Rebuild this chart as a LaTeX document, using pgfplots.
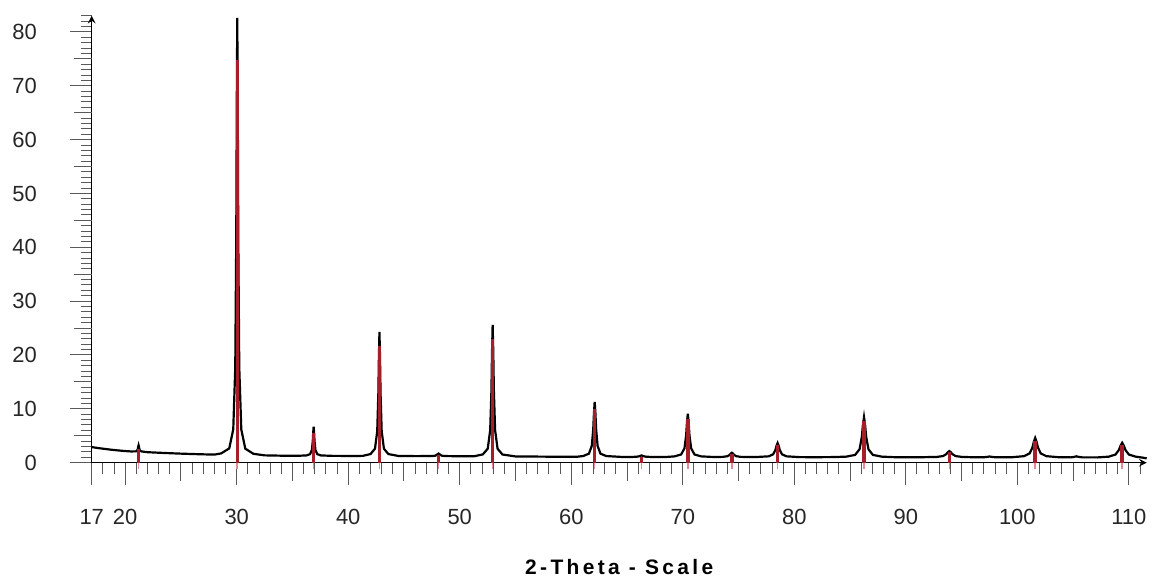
\documentclass[border=0pt]{standalone}
\usepackage{fontspec}
\setmainfont{Liberation Sans}
\newfontfamily\xlabfont[LetterSpace=16]{Liberation Sans}
\usepackage{pgfplots}
\pgfplotsset{compat=1.18}
\definecolor{stickred}{RGB}{165,30,42}
\definecolor{stickpink}{RGB}{225,140,150}

\begin{document}
\begin{tikzpicture}
\begin{axis}[
    scale only axis,
    width=529pt, height=224.1pt,
    xmin=17, xmax=111.6,
    ymin=0, ymax=83,
    axis lines=left,
    axis line style={black, line width=0.7pt},
    clip=false,
    xtick={17,20,30,40,50,60,70,80,90,100,110},
    minor xtick={17,...,111},
    extra x ticks={25,35,45,55,65,75,85,95,105},
    extra x tick labels={},
    ytick={0,10,...,80},
    minor ytick={0,...,83},
    extra y ticks={5,15,...,75},
    extra y tick labels={},
    extra tick style={major tick length=9pt},
    tick align=outside,
    major tick length=11pt,
    minor tick length=5.5pt,
    tick style={black!65, line width=0.5pt},
    /pgf/number format/assume math mode=true,
    tick label style={font=\fontsize{11}{13}\selectfont, text=black!85},
    xticklabel style={yshift=-9pt},
    yticklabel style={xshift=-13pt},
    xlabel={\xlabfont\bfseries\fontsize{10.5}{12}\selectfont 2-Theta - Scale},
    xlabel style={at={(axis description cs:0.5,0)}, anchor=north, yshift=-45pt},
]
% measured pattern
\addplot[black, line width=1.1pt, mark=none] coordinates {
(17,2.9)(17.5,2.74)(18,2.6)(18.5,2.47)(19,2.35)(19.5,2.25)(20,2.16)(20.5,2.09)
(20.96,2.1)(21.08,2.27)(21.14,2.63)(21.17,2.99)(21.2,3.23)(21.23,2.99)(21.26,2.63)(21.32,2.27)(21.44,2.1)
(22,1.95)(23,1.85)(24,1.76)(25,1.68)(26,1.61)(27,1.55)(28,1.5)(28.6,1.72)
(29.33,2.65)(29.69,6.18)(29.87,17.64)(29.96,42.0)(30.005,66.36)(30.05,82.6)(30.095,66.36)(30.14,42.0)(30.23,17.64)(30.41,6.18)(30.77,2.6)
(31.5,1.65)(32.5,1.36)(34,1.3)(35.5,1.28)
(36.26,1.35)(36.58,1.59)(36.74,2.36)(36.82,3.99)(36.86,5.61)(36.9,6.7)(36.94,5.61)(36.98,3.99)(37.06,2.36)(37.22,1.59)(37.54,1.35)
(38.5,1.27)(40,1.25)(41.3,1.26)
(42.0,1.6)(42.4,2.6)(42.6,5.85)(42.7,12.77)(42.75,19.69)(42.8,24.3)(42.85,19.69)(42.9,12.77)(43.0,5.85)(43.2,2.6)(43.6,1.6)
(44.5,1.25)(46,1.22)
(47.5,1.23)(47.8,1.3)(47.95,1.45)(48.025,1.6)(48.1,1.7)(48.175,1.6)(48.25,1.45)(48.4,1.3)(48.7,1.23)
(50,1.19)(51.3,1.2)
(52.07,1.54)(52.51,2.6)(52.73,6.05)(52.84,13.38)(52.895,20.71)(52.95,25.6)(53.005,20.71)(53.06,13.38)(53.17,6.05)(53.39,2.6)(53.83,1.52)
(55,1.16)(57,1.13)(59,1.1)(60.5,1.1)
(61.06,1.23)(61.58,1.67)(61.84,3.12)(61.97,6.19)(62.035,9.25)(62.1,11.3)(62.165,9.25)(62.23,6.19)(62.36,3.12)(62.62,1.67)(63.14,1.23)
(64.5,1.07)
(65.5,1.07)(65.9,1.11)(66.1,1.2)(66.3,1.35)(66.5,1.2)(66.7,1.11)(67.1,1.07)
(68.5,1.06)
(69.25,1.17)(69.85,1.52)(70.15,2.66)(70.3,5.07)(70.375,7.49)(70.45,9.1)(70.525,7.49)(70.6,5.07)(70.75,2.66)(71.05,1.52)(71.65,1.17)
(72.8,1.05)
(73.6,1.08)(74.0,1.2)(74.2,1.44)(74.3,1.68)(74.4,1.85)(74.5,1.68)(74.6,1.44)(74.8,1.2)(75.2,1.08)
(76.5,1.04)
(77.7,1.18)(78.1,1.55)(78.3,2.34)(78.4,3.13)(78.5,3.65)(78.6,3.13)(78.7,2.34)(78.9,1.55)(79.3,1.18)
(80.5,1.03)(82,1.02)(83.5,1.04)
(84.65,1.12)(85.45,1.44)(85.85,2.49)(86.05,4.73)(86.15,6.96)(86.25,8.45)(86.35,6.96)(86.45,4.73)(86.65,2.49)(87.05,1.44)(87.85,1.12)
(89,1.02)(91,1.0)
(92.78,1.07)(93.34,1.23)(93.62,1.58)(93.76,1.92)(93.9,2.15)(94.04,1.92)(94.18,1.58)(94.46,1.23)(95.02,1.07)
(96.2,1.0)
(97.0,1.01)(97.3,1.08)(97.5,1.15)(97.7,1.08)(98.0,1.01)
(99.5,1.01)
(100.6,1.21)(101.1,1.72)(101.35,2.8)(101.475,3.88)(101.6,4.6)(101.725,3.88)(101.85,2.8)(102.1,1.72)(102.6,1.21)
(103.8,1.0)
(104.8,0.99)(105.1,1.08)(105.3,1.18)(105.5,1.08)(105.8,0.99)
(107.2,0.98)
(108.2,1.12)(108.8,1.51)(109.1,2.33)(109.25,3.15)(109.4,3.7)(109.55,3.15)(109.7,2.33)(110.0,1.51)(110.6,1.12)
(111.2,0.95)(111.6,0.8)
};
% reference sticks, part below the axis
\addplot[ycomb, stickpink, line width=0.8pt, mark=none] coordinates {
(21.2,-1.2)(30.05,-1.2)(36.9,-1.2)(42.8,-1.2)(48.1,-1.2)(52.95,-1.2)(62.1,-1.2)
(66.3,-1.2)(70.45,-1.2)(74.4,-1.2)(78.5,-1.2)(86.25,-1.2)(93.9,-1.2)(101.6,-1.2)(109.4,-1.2)
};
% reference sticks
\addplot[ycomb, stickred, line width=1.7pt, mark=none] coordinates {
(21.2,2.6)(30.05,74.8)(36.9,5.5)(42.8,21.7)(48.1,1.4)(52.95,23.0)(62.1,10.0)
(66.3,1.0)(70.45,8.2)(74.4,1.6)(78.5,3.2)(86.25,7.7)(93.9,1.9)(101.6,4.1)(109.4,3.3)
};
\path (axis cs:17,0) ++(-46pt,-57pt) rectangle ++(576.5pt,289pt);
\end{axis}
\end{tikzpicture}
\end{document}
